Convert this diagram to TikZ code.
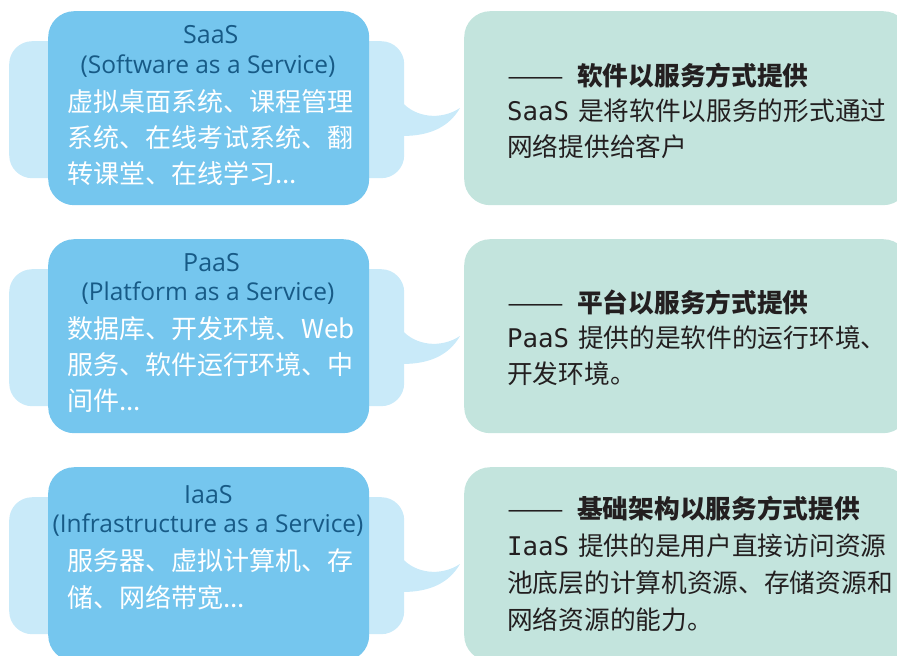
\documentclass[tikz,border=0pt]{standalone}
\usepackage{fontspec}
\setmainfont{Open Sans}
\newfontfamily\cjk{Noto Sans CJK SC}
\newfontfamily\monof{DejaVu Sans Mono}
\definecolor{frontblue}{HTML}{75C6EE}
\definecolor{backblue}{HTML}{C9EAF9}
\definecolor{mint}{HTML}{C3E4DD}
\definecolor{titleblue}{HTML}{175A86}
\definecolor{bodytext}{HTML}{231F20}
\tikzset{
  backbox/.style={fill=backblue, rounded corners=23pt, anchor=north west, inner sep=0pt, minimum width=395pt, minimum height=137pt},
  frontbox/.style={fill=frontblue, rounded corners=26pt, anchor=north west, inner sep=0pt, minimum width=321pt, minimum height=194pt},
  notebox/.style={fill=mint, rounded corners=26pt, anchor=north west, inner sep=0pt, minimum width=445pt, minimum height=194pt},
  titletext/.style={text=titleblue, font=\fontsize{25}{25}\selectfont, inner sep=0pt, anchor=west},
  subtext/.style={text=titleblue, font=\fontsize{24.5}{25}\selectfont, inner sep=0pt, anchor=center},
  leftline/.style={text=white, font=\cjk\fontsize{26}{26}\selectfont, inner sep=0pt, anchor=base west},
  rightline/.style={text=bodytext, font=\cjk\fontsize{25.7}{26}\selectfont, inner sep=0pt, anchor=base west},
}
\newcommand{\longdash}{\makebox[51pt][l]{\scalebox{1.32}[1]{——}}\hspace{19pt}}
\newcommand{\panelshapes}[1]{%
  \node[backbox] (#1b) at (9,30) {};
  \fill[backblue] (402,91) .. controls (415,106) and (440,110) .. (460,97)
        .. controls (449,116) and (430,125) .. (402,125) -- cycle;
  \node[frontbox] (#1f) at (48,0) {};
  \node[notebox] (#1n) at (464,0) {};
}
\begin{document}
\begin{tikzpicture}[x=1pt,y=-1pt]
\useasboundingbox (0,0) rectangle (897,656);
\clip (0,0) rectangle (897,656);
% ---------- SaaS ----------
\begin{scope}[yshift=-11pt]
  \panelshapes{s}
  \node[titletext] (st) at (183,24) {SaaS};
  \node[subtext] (ss) at (208,55) {(Software as a Service)};
  \node[leftline] (sl1) at (67,100) {虚拟桌面系统、课程管理};
  \node[leftline] (sl2) at (67,136.5) {系统、在线考试系统、翻};
  \node[leftline] (sl3) at (67,172.5) {转课堂、在线学习...};
  \node[rightline] (sr1) at (507,74.5) {\longdash\bfseries 软件以服务方式提供};
  \node[rightline] (sr2) at (507,109.5) {{\monof SaaS}\hspace{9pt}是将软件以服务的形式通过};
  \node[rightline] (sr3) at (507,145.5) {网络提供给客户};
\end{scope}
% ---------- PaaS ----------
\begin{scope}[yshift=-239pt]
  \panelshapes{p}
  \node[titletext] (pt) at (183,24) {PaaS};
  \node[subtext] (ps) at (208,54) {(Platform as a Service)};
  \node[leftline] (pl1) at (67,99) {数据库、开发环境、Web};
  \node[leftline] (pl2) at (67,135.5) {服务、软件运行环境、中};
  \node[leftline] (pl3) at (67,171.5) {间件...};
  \node[rightline] (pr1) at (507,73.5) {\longdash\bfseries 平台以服务方式提供};
  \node[rightline] (pr2) at (507,108.5) {{\monof PaaS}\hspace{9pt}提供的是软件的运行环境、};
  \node[rightline] (pr3) at (507,144.5) {开发环境。};
\end{scope}
% ---------- IaaS ----------
\begin{scope}[yshift=-467pt]
  \panelshapes{i}
  \node[titletext] (it) at (184,28) {IaaS};
  \node[subtext] (is) at (208,58) {(Infrastructure as a Service)};
  \node[leftline] (il1) at (67,103) {服务器、虚拟计算机、存};
  \node[leftline] (il2) at (67,140) {储、网络带宽...};
  \node[rightline] (ir1) at (507,51) {\longdash\bfseries 基础架构以服务方式提供};
  \node[rightline] (ir2) at (507,88) {{\monof IaaS}\hspace{9pt}提供的是用户直接访问资源};
  \node[rightline] (ir3) at (507,125) {池底层的计算机资源、存储资源和};
  \node[rightline] (ir4) at (507,162) {网络资源的能力。};
\end{scope}
\end{tikzpicture}
\end{document}
